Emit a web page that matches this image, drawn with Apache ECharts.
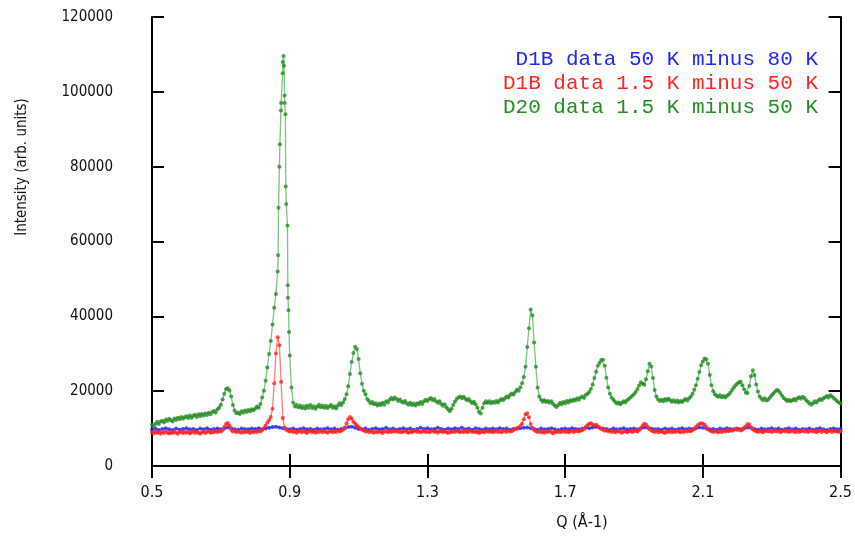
<!DOCTYPE html>
<html>
<head>
<meta charset="utf-8">
<script src="https://cdn.jsdelivr.net/npm/echarts@6/dist/echarts.min.js"></script>
<style>
html,body{margin:0;padding:0;background:#fff;}
#chart{width:855px;height:538px;}
</style>
</head>
<body>
<div id="chart"></div>
<script>
// ---- data ----
const seriesNames = ['D1B data 50 K minus 80 K', 'D1B data 1.5 K minus 50 K', 'D20 data 1.5 K minus 50 K'];
const xTicks = [0.5, 0.9, 1.3, 1.7, 2.1, 2.5];
const yTicks = [0, 20000, 40000, 60000, 80000, 100000, 120000];
const Q_START = 0.5;
const STEP_FINE = 0.005;   // sampling of red and green
const STEP_COARSE = 0.01;  // sampling of blue

// D1B 50 K - 80 K (blue), Q = 0.50 .. 2.50 step 0.01
const blueI = [
 9700,10000,9600,9900,10100,9800,9600,10000,9700,9900,
 10100,9800,9900,9600,10000,9800,10100,9700,9900,10000,
 9800,10000,10300,10100,9800,9700,10000,9900,9800,10000,
 9900,10100,9800,10000,10200,10400,10500,10300,10100,9900,
 9800,10000,9700,9900,10100,9800,9900,9700,10000,9800,
 9900,10100,9800,10000,9700,9900,10100,10400,10500,10200,
 9900,9800,10000,9700,9900,10100,9800,9900,10200,9800,
 10000,9700,9900,10100,9800,10000,9700,9900,10200,9900,
 10100,9800,9900,10200,9900,9700,10000,9800,10100,9900,
 10200,9800,10000,9700,10100,9900,9700,10000,9800,10000,
 9800,10100,9900,10000,9700,9900,10000,10100,10200,10300,
 10100,9900,9700,10000,9800,9900,10100,9800,9600,9900,
 10000,9800,10100,9900,9800,10000,10200,10100,10300,10400,
 10200,10000,9900,9700,10000,9800,9900,10100,9800,9900,
 10000,9800,10100,10300,10200,10000,9800,9900,9700,10000,
 9800,10000,9700,9900,10100,9800,10000,9900,10100,10300,
 10200,10000,9800,9900,9700,10000,9800,10100,9900,9800,
 10000,9800,10100,10300,10200,9900,9700,10000,9800,9900,
 10100,9800,10000,9700,9900,10100,9800,10000,9700,9900,
 9800,10000,9700,9900,10100,9800,9600,9900,10000,9800,
 9900
];

// D1B 1.5 K - 50 K (red), Q = 0.50 .. 2.50 step 0.005
const redI = [
 9000,8700,9200,8800,9100,8600,9000,8800,9300,8900,8700,9100,8800,9200,8900,8600,9000,9300,8800,9100,
 8900,9200,8700,9000,9300,8800,9100,8900,8600,9000,9200,8800,9100,9300,8900,9100,9000,9400,9100,9300,
 9200,9600,10400,11200,11500,10800,9700,9200,9400,9000,9300,9100,8900,9200,9000,9300,9100,8800,9200,9000,
 9300,9100,9400,9200,9600,10100,10800,11600,12300,13100,15300,22100,30100,34400,32300,22500,12800,10300,9700,9400,
 9200,9500,9100,9300,8900,9200,9400,9000,9300,9100,8800,9200,9400,9000,9300,8900,9200,9100,9400,9000,
 9300,9100,8900,9200,9400,9000,9300,9100,9500,9200,9400,9700,10300,11400,12500,13100,12700,11800,11300,10800,
 10400,10000,9700,9500,9200,9400,9000,9300,9100,8900,9200,9000,9300,9100,8800,9200,9400,9000,9300,9100,
 9400,9200,9500,9100,9300,9000,9200,9400,9100,8900,9200,9000,9300,9500,9100,9300,9000,9200,9400,9100,
 9300,9000,9200,9500,9100,9300,8900,9200,9400,9000,9300,9100,8800,9200,9000,9300,9100,9400,9200,9000,
 9300,9100,9400,9000,9200,9500,9100,9300,9000,9200,8800,9100,9300,9000,9200,9400,9100,9300,9000,9200,
 9400,9100,9300,9000,9200,9500,9100,9400,9200,9300,9600,9800,10000,10300,10700,11300,12500,13800,14100,13000,
 11200,10200,9600,9300,9100,9400,9000,9200,8900,9300,9100,9400,9000,8700,9200,9100,9300,9000,9200,9400,
 9100,9300,9000,9200,9400,9100,9300,9500,9200,9400,9600,9900,10400,10900,11300,11400,11100,10800,11000,10600,
 10300,9900,9700,9400,9600,9200,9400,9100,9300,9000,9200,9400,9100,8900,9200,9300,9000,9200,9400,9100,
 9300,9500,9200,9600,10100,10800,11300,11100,10400,9800,9500,9300,9100,9400,9000,9200,9300,9000,8800,9200,
 9100,9400,9000,9300,9100,9400,9200,9000,9300,9100,9400,9200,9500,9300,9600,9900,10400,10900,11200,11400,
 11300,11000,10400,9800,9500,9300,9100,9400,9200,9000,9300,9100,9400,9200,9500,9300,9600,9400,9700,9900,
 9600,9800,9500,9700,10200,10600,11200,11000,10300,9800,9500,9300,9100,9400,9200,9000,9300,9500,9200,9400,
 9100,9300,9500,9200,9400,9000,9300,9600,9200,9400,9100,9300,9500,9200,9000,9400,9100,9300,9500,9200,
 9400,9100,9300,9600,9200,9400,9000,9300,9500,9100,9400,9200,9000,9300,9500,9100,9400,9200,9300,9100,
 9300
];

// D20 1.5 K - 50 K (green), Q = 0.50 .. 2.50 step 0.005
const greenI = [
 11000,10600,11300,11800,11200,11900,12100,11600,12400,12000,12600,12200,11900,12700,12300,12900,12500,13100,12600,13000,
 13300,12800,13500,12900,13400,13700,13100,13800,13300,13900,13500,14000,13600,14200,13800,14400,14700,14300,15200,15600,
 16400,17800,19300,20600,20800,20200,18600,16300,14800,14100,14300,13900,14600,14200,14800,14400,15000,14600,15200,14900,
 15400,15900,15600,16600,18300,20100,22800,26300,29900,33400,37800,42300,46000,52000,80000,97000,108000,99000,70000,45000,
 29500,21000,16900,15900,16400,15700,16200,15500,16000,15400,16100,15600,16300,15500,16000,15300,15900,16400,15700,16200,
 15600,16100,15500,15900,16300,15600,16000,15400,16200,16800,16300,17000,17900,19200,21300,24600,27800,30200,31900,31300,
 28600,24800,22000,20100,19200,17900,17400,16800,17100,16500,16800,16200,16700,16300,16900,16400,17300,17000,17700,18200,
 17800,18300,17900,17400,17800,17200,16900,17400,16800,16400,16900,16300,16700,16200,16800,16500,17100,16600,17300,17700,
 17400,17900,18200,17600,17900,17300,16900,17300,16600,16100,16500,15700,15200,14600,15300,16300,17200,17900,18300,18600,
 18100,18500,18000,17600,17900,17300,16800,17200,16500,15600,14400,14000,15600,16800,17300,16900,17300,16800,17200,16900,
 17400,17000,17500,17900,17600,18100,18600,18300,19000,19400,19100,19800,20400,20100,21000,22100,23800,26500,31800,36800,
 41800,40200,33000,26500,21000,18600,17700,17200,17600,17100,17400,16900,17300,16600,16100,15800,16300,16900,16500,17100,
 16800,17400,17000,17600,17300,17800,17500,18100,17700,18300,18600,18200,19000,19300,19800,20600,21800,23500,25200,26800,
 27600,28300,28400,26800,23600,21000,19300,18300,17700,17200,16700,17000,16500,16900,17300,17000,17600,17900,18300,18800,
 19200,19800,20600,21500,22400,22000,21700,23200,25300,27300,26600,23500,20300,18600,17800,17400,17700,17300,17900,17500,
 18000,17600,17200,17600,17100,17500,17000,17400,17100,17600,17900,17500,18100,18600,19300,20400,21600,23300,25100,26900,
 27900,28700,28500,27300,24300,21600,20000,19200,18800,18500,18900,18400,18700,18300,18800,19100,19600,20300,21000,21600,
 22000,22400,22500,21600,20500,19600,19500,21400,24000,25600,24300,21800,19900,18600,18000,17600,18100,17500,17800,18300,
 18900,19400,19900,20300,20100,19500,18800,18200,17800,17400,17700,17300,17600,17900,17500,18100,18400,18000,18500,18200,
 17600,17200,16700,16400,16800,17300,17000,17500,17900,17600,18100,18400,18700,18300,18900,18600,18200,17800,17300,17000,
 16700
];

// extra measured points on the sharp green peak near Q = 0.88
const greenPeakQ = [0.8665, 0.8675, 0.8715, 0.8745, 0.8795, 0.8820, 0.8835, 0.8855, 0.8875, 0.8885, 0.8935, 0.8945, 0.8965, 0.8980];
const greenPeakI = [56300, 69000, 86000, 95000, 105000, 109600, 107000, 97000, 94000, 74700, 64300, 48300, 41600, 35800];

// ---- build ----
function gridPairs(values, step) {
  return values.map((v, i) => [Number((Q_START + i * step).toFixed(4)), v]);
}
const blueData = gridPairs(blueI, STEP_COARSE);
const redData = gridPairs(redI, STEP_FINE);
const greenData = gridPairs(greenI, STEP_FINE)
  .concat(greenPeakQ.map((q, j) => [q, greenPeakI[j]]))
  .sort((a, b) => a[0] - b[0]);

const colors = ['#2424ff', '#ff2424', '#238e23'];
const lineColors = ['#5a5aff', '#ff5c5c', '#5cb45c'];
const labelFont = "'Liberation Sans Narrow', 'DejaVu Sans Condensed', 'Liberation Sans', sans-serif";
const monoFont = "'Liberation Mono', 'DejaVu Sans Mono', monospace";

const axisLine = { show: true, lineStyle: { color: '#000', width: 2 } };
const tickStyle = { color: '#000', width: 2 };

function mkSeries(idx, data, size) {
  return {
    name: seriesNames[idx], type: 'line', data: data,
    symbol: 'circle', symbolSize: size, showSymbol: true,
    itemStyle: { color: colors[idx], opacity: 0.8 },
    lineStyle: { color: lineColors[idx], width: 1.3, opacity: 0.8 },
    emphasis: { disabled: true },
    z: 2 + idx
  };
}

function mkLegend(idx, top) {
  return {
    data: [{ name: seriesNames[idx], textStyle: { color: colors[idx] } }],
    right: 37, top: top, padding: 0, icon: 'none', itemWidth: 0, itemHeight: 0, itemGap: 0,
    selectedMode: false,
    textStyle: { fontFamily: monoFont, fontSize: 21, color: colors[idx], padding: [0, 0, 0, -5] }
  };
}

const chart = echarts.init(document.getElementById('chart'), null, { renderer: 'canvas' });
chart.setOption({
  animation: false,
  backgroundColor: '#fff',
  grid: { left: 152, right: 10, top: 17, bottom: 72, containLabel: false },
  legend: [mkLegend(0, 49), mkLegend(1, 73), mkLegend(2, 97)],
  xAxis: [
    {
      type: 'value', position: 'bottom', min: 0.5, max: 2.5,
      axisLine: axisLine,
      axisTick: { show: true, inside: true, length: 12, customValues: xTicks, lineStyle: tickStyle },
      axisLabel: { customValues: xTicks, formatter: v => v.toFixed(1), margin: 19, color: '#111', fontFamily: labelFont, fontSize: 16 },
      splitLine: { show: false }
    },
    {
      type: 'value', position: 'top', min: 0.5, max: 2.5,
      axisLine: axisLine,
      axisTick: { show: true, inside: true, length: 12, customValues: xTicks, lineStyle: tickStyle },
      axisLabel: { show: false }, splitLine: { show: false }
    }
  ],
  yAxis: [
    {
      type: 'value', position: 'left', min: 0, max: 120000, interval: 20000,
      axisLine: axisLine,
      axisTick: { show: true, inside: true, length: 12, customValues: yTicks, lineStyle: tickStyle },
      axisLabel: { customValues: yTicks, formatter: v => String(v), margin: 39, color: '#111', fontFamily: labelFont, fontSize: 15 },
      splitLine: { show: false }
    },
    {
      type: 'value', position: 'right', min: 0, max: 120000, interval: 20000,
      axisLine: axisLine,
      axisTick: { show: true, inside: true, length: 12, customValues: yTicks, lineStyle: tickStyle },
      axisLabel: { show: false }, splitLine: { show: false }
    }
  ],
  graphic: [
    { type: 'text', x: 22, y: 167, rotation: Math.PI / 2,
      style: { text: 'Intensity (arb. units)', fill: '#111', font: "15px " + labelFont, textAlign: 'center', textVerticalAlign: 'middle' } },
    { type: 'text', x: 582, y: 523,
      style: { text: 'Q (Å-1)', fill: '#111', font: "16px " + labelFont, textAlign: 'center', textVerticalAlign: 'middle' } }
  ],
  series: [mkSeries(0, blueData, 4), mkSeries(1, redData, 4), mkSeries(2, greenData, 4)]
});
</script>
</body>
</html>
